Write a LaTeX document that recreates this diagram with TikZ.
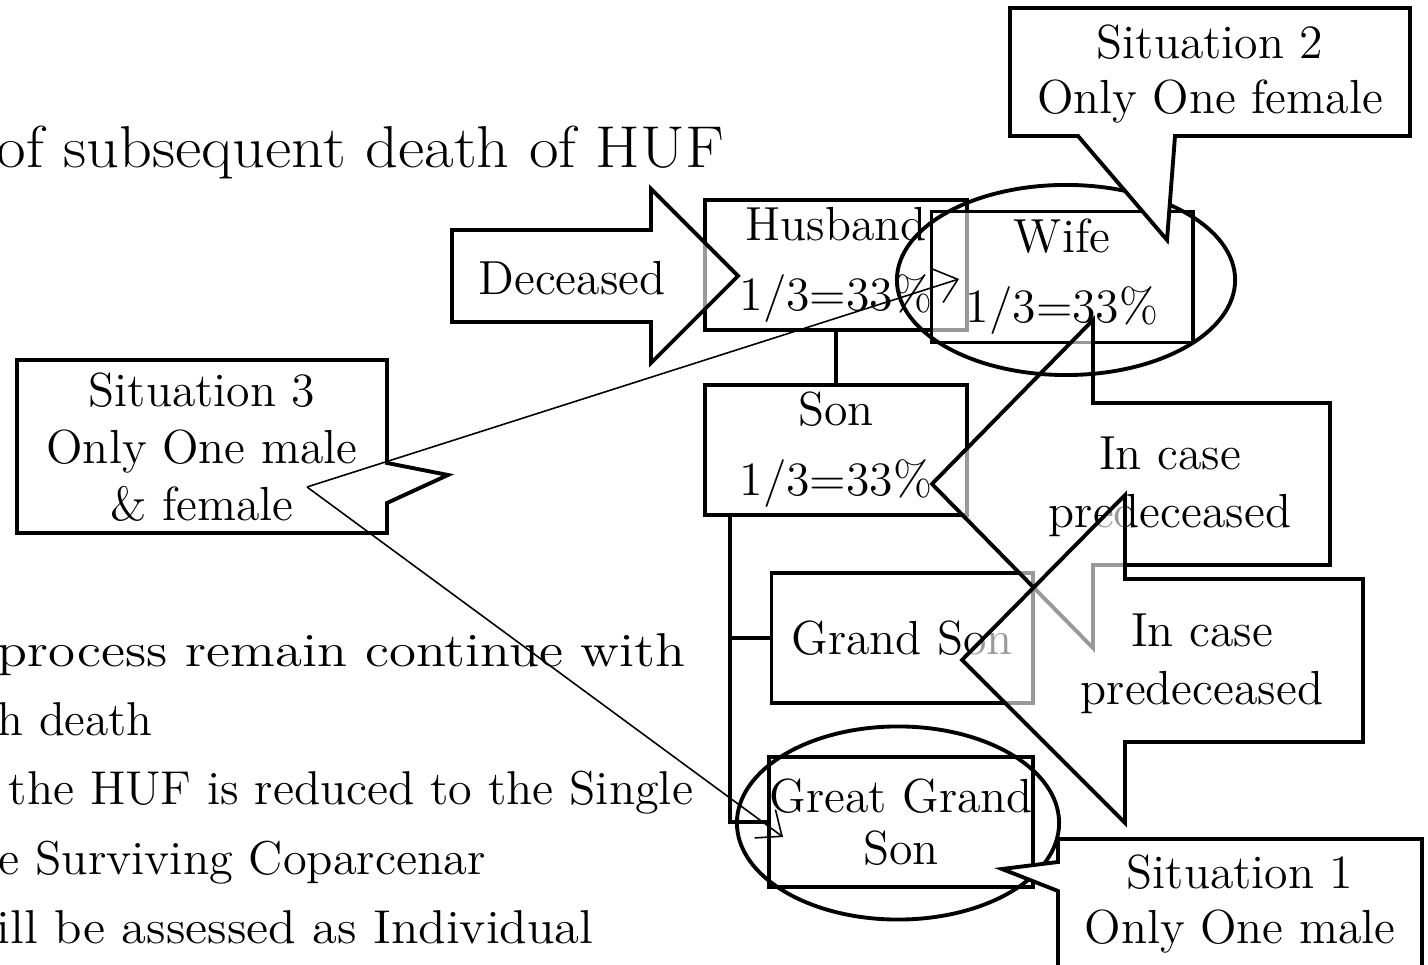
\documentclass[tikz,border=0pt]{standalone}
\usepackage{fontspec}
\usepackage{graphicx}
\usetikzlibrary{shapes.geometric,arrows.meta}

\begin{document}
\begin{tikzpicture}[x=0.01cm, y=-0.01cm,
    tbox/.style={rectangle, draw, line width=1.1pt, fill=white, fill opacity=0.6, text opacity=1, minimum width=2.62cm, minimum height=1.3cm, inner sep=0pt, align=center, font=\fontsize{13.6}{16}\selectfont},
    callout/.style={draw, line width=1.1pt, fill=white, fill opacity=0.6},
    bubble/.style={draw, line width=1.1pt, fill=white},
    lbl/.style={align=center, inner sep=0pt, font=\fontsize{13.6}{16.2}\selectfont},
    ring/.style={ellipse, draw, line width=1.1pt, inner sep=0pt},
    link/.style={line width=1.1pt},
    pointer/.style={->, >={Straight Barb[length=6pt,width=10pt]}, line width=0.45pt},
    body/.style={anchor=base west, inner sep=0pt, font=\fontsize{13.5}{16}\selectfont}
]
\clip (0,0) rectangle (1428,965);

% slide text, cut at the left
\node[body, font=\fontsize{16.8}{19}\selectfont] (title) at (-4,168) {\scalebox{1.09}[1]{of subsequent death of HUF}};
\node[body] (line1) at (-3,667) {\scalebox{1.16}[1]{process remain continue with}};
\node[body] (line2) at (-3,736) {h death};
\node[body] (line3) at (8,805) {\scalebox{1.016}[1]{the HUF is reduced to the Single}};
\node[body] (line4) at (-2,874) {\scalebox{1.02}[1]{e Surviving Coparcenar}};
\node[body] (line5) at (-4,943) {\scalebox{1.065}[1]{ill be assessed as Individual}};

% family tree
\node[tbox] (husband) at (836,265) {Husband\\[3.9pt]1/3=33\%};
\node[tbox, minimum width=2.61cm, minimum height=1.31cm] (wife) at (1062,277) {Wife\\[3.9pt]1/3=33\%};
\node[tbox] (son) at (836,450) {Son\\[3.9pt]1/3=33\%};
\node[tbox, minimum width=2.61cm] (gson) at (902,638) {Grand Son};
\node[tbox, minimum width=2.63cm, font=\fontsize{13.6}{14.8}\selectfont] (ggson) at (901,822) {Great Grand\\Son};

\draw[link] (husband) -- (son);
\coordinate (trunk) at ([xshift=0.27cm]son.south west);
\draw[link] (trunk) |- (ggson.west);
\draw[link] (trunk |- gson.west) -- (gson.west);

% block arrow
\draw[callout] (452,230) -- (651,230) -- (651,189) -- (738,276) -- (651,363) -- (651,322) -- (452,322) -- cycle;
\node[lbl] (deceased) at (572,278) {Deceased};

% left arrow callouts
\draw[callout] (1093,403) -- (1330,403) -- (1330,565) -- (1093,565) -- (1093,648) -- (932,484) -- (1093,320) -- cycle;
\node[lbl, font=\fontsize{13.6}{16.5}\selectfont] (casea) at (1170,487) {In case\\predeceased};
\draw[callout] (1125,579) -- (1363,579) -- (1363,742) -- (1125,742) -- (1125,823) -- (962,660) -- (1125,495) -- cycle;
\node[lbl, font=\fontsize{13.6}{16.5}\selectfont] (caseb) at (1202,664) {In case\\predeceased};

% rings
\node[ring, minimum width=3.38cm, minimum height=1.9cm] (wifering) at (1066,280) {};
\node[ring, minimum width=3.22cm, minimum height=1.93cm] (ggsring) at (898,823) {};

% situations
\draw[bubble] (1010,8) -- (1410,8) -- (1410,136) -- (1175,136) -- (1167,240) -- (1078,136) -- (1010,136) -- cycle;
\node[lbl, font=\fontsize{13.6}{15.6}\selectfont] (sit2) at (1210,74) {Situation 2\\Only One female};
\draw[bubble] (17,360) -- (387,360) -- (387,463) -- (448,475) -- (387,503) -- (387,533) -- (17,533) -- cycle;
\node[lbl] (sit3) at (202,447) {Situation 3\\Only One male\\\& female};
\draw[bubble] (1058,839) -- (1422,839) -- (1422,1000) -- (1058,1000) -- (1058,891) -- (1002,869) -- (1058,862) -- cycle;
\node[lbl, font=\fontsize{13.6}{15.6}\selectfont] (sit1) at (1240,904) {Situation 1\\Only One male};

% thin pointers
\coordinate (s3src) at (307,487);
\coordinate (wifetip) at (959,279);
\coordinate (ggstip) at (783,837);
\draw[pointer] (s3src) -- (wifetip);
\draw[pointer] (s3src) -- (ggstip);

\end{tikzpicture}
\end{document}
